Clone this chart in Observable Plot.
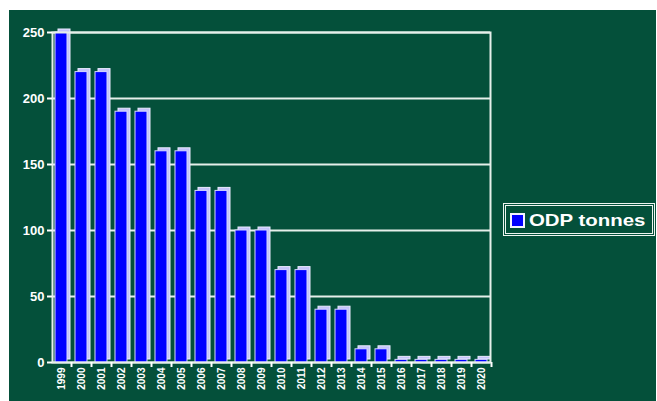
<!DOCTYPE html>
<html><head><meta charset="utf-8">
<script src="https://cdn.jsdelivr.net/npm/d3@7"></script>
<script src="https://cdn.jsdelivr.net/npm/@observablehq/plot@0.6"></script>
<style>
body{margin:0;background:#fff;width:657px;height:401px;overflow:hidden;font-family:"Liberation Sans",Arial,sans-serif;}
#panel{position:absolute;left:9px;top:10px;width:647px;height:391px;background:#04503a;}
#chart{position:absolute;left:0;top:0;}
#legend{position:absolute;left:494px;top:193px;width:146px;height:27px;border:3px double #eef4f0;display:flex;align-items:center;}
#sw{width:11px;height:11px;background:#0000ff;border:2px solid #f4f4ff;margin-left:4px;margin-top:2px;}
#lt{color:#fff;font-weight:bold;font-size:17px;transform:scaleX(1.2);transform-origin:left center;margin-left:4px;margin-top:3px;white-space:nowrap;}
</style></head>
<body>
<div id="panel"><div id="chart"></div>
<div id="legend"><div id="sw"></div><div id="lt">ODP tonnes</div></div>
</div>
<script>
const years = ["1999","2000","2001","2002","2003","2004","2005","2006","2007","2008","2009","2010","2011","2012","2013","2014","2015","2016","2017","2018","2019","2020"];
const odpTonnes = [250,220,220,190,190,160,160,130,130,100,100,70,70,40,40,10,10,2,2,2,2,2];
const yTicks = [0,50,100,150,200,250];
const data = years.map((y,i)=>({year:y, value:odpTonnes[i]}));
const plot = Plot.plot({
  width:647, height:385, marginLeft:43, marginTop:22, marginRight:166, marginBottom:33,
  style:{background:"transparent", color:"#fff", fontFamily:"Liberation Sans, Arial, sans-serif"},
  x:{domain:years, paddingInner:0.4, paddingOuter:0.15, round:false, axis:null, label:null},
  y:{domain:[0,250], axis:null, label:null},
  marks:[
    Plot.gridY(yTicks, {stroke:"#e6efea", strokeOpacity:1, strokeWidth:2}),
    Plot.barY(data,{x:"year",y:"value",fill:"#c4c4fa",stroke:"#ececff",strokeWidth:1,dx:3,dy:-3}),
    Plot.barY(data,{x:"year",y:"value",fill:"#0000ff",stroke:"#d8d8ff",strokeWidth:1}),
    Plot.frame({stroke:"#e6efea", strokeWidth:2}),
    Plot.axisY(yTicks,{label:null, tickSize:5, tickPadding:3, fontSize:13, fontWeight:"bold", stroke:"#fff", strokeWidth:2}),
    Plot.axisX({label:null, tickSize:0, tickRotate:-90, tickPadding:5, fontSize:10, fontWeight:"bold"}),
    Plot.axisX({label:null, tickSize:5, tickFormat:()=>"", dx:10, stroke:"#fff", strokeWidth:2})
  ]
});
document.getElementById("chart").appendChild(plot);
</script>
</body></html>
